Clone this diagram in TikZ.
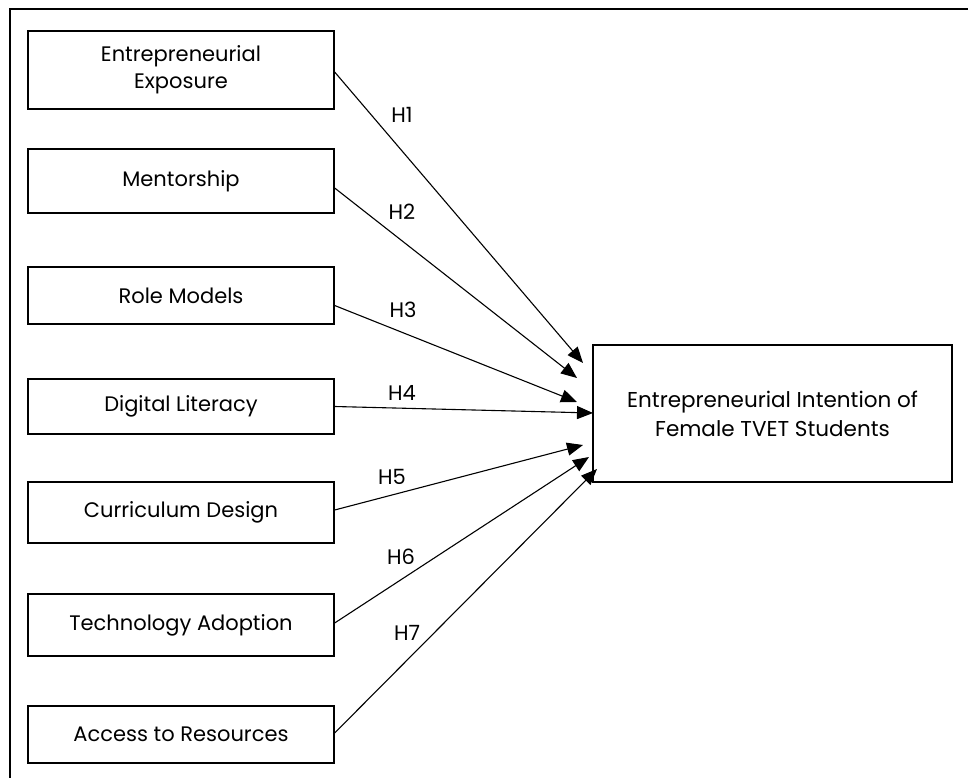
\documentclass[tikz,border=0pt]{standalone}
\usepackage{fontspec}
\setmainfont{Poppins}
\usetikzlibrary{arrows.meta}
\begin{document}
\begin{tikzpicture}[x=1pt,y=-1pt,
  factor/.style={draw, line width=1.3pt, minimum width=306pt, align=center,
    font=\fontsize{21}{27}\selectfont, inner sep=0pt},
  outcome/.style={draw, line width=1.3pt, minimum width=359pt, minimum height=137pt,
    align=center, font=\fontsize{21.5}{29}\selectfont, inner sep=0pt},
  link/.style={line width=1.1pt, -{Triangle[length=16pt,width=13pt]}},
  hlabel/.style={font=\fontsize{21}{23}\selectfont, inner sep=0pt}]
\useasboundingbox (0,0) rectangle (968,778);
\fill[white] (0,0) rectangle (968,778);
% frame
\draw[line width=2.2pt] (10,778) -- (10,9) -- (968,9);
% factor boxes
\node[factor, minimum height=78pt] (b1) at (181,70) {Entrepreneurial\\Exposure};
\node[factor, minimum height=64pt] (b2) at (181,181) {Mentorship};
\node[factor, minimum height=57pt] (b3) at (181,295.5) {Role Models};
\node[factor, minimum height=55pt] (b4) at (181,406.5) {Digital Literacy};
\node[factor, minimum height=61pt] (b5) at (181,512.5) {Curriculum Design};
\node[factor, minimum height=62pt] (b6) at (181,625) {Technology Adoption};
\node[factor, minimum height=57pt] (b7) at (181,734.5) {Access to Resources};
% outcome box
\node[outcome] (out) at (772.5,413.5) {Entrepreneurial Intention of\\Female TVET Students};
% arrow tips
\coordinate (t1) at (583,363);
\coordinate (t2) at (577,378);
\coordinate (t3) at (577,402);
\coordinate (t4) at (593,413);
\coordinate (t5) at (583,445);
\coordinate (t6) at (589,457);
\coordinate (t7) at (597,469);
% hypotheses (yshift acts in page space: negative moves down)
\draw[link] ([yshift=-2pt]b1.east) -- (t1);
\draw[link] ([yshift=-7pt]b2.east) -- (t2);
\draw[link] ([yshift=-10pt]b3.east) -- (t3);
\draw[link] (b4.east) -- (t4);
\draw[link] ([yshift=2.5pt]b5.east) -- (t5);
\draw[link] ([yshift=2pt]b6.east) -- (t6);
\draw[link] ([yshift=1.5pt]b7.east) -- (t7);
% labels
\node[hlabel] (h1) at (402,115) {H1};
\node[hlabel] (h2) at (402,212) {H2};
\node[hlabel] (h3) at (403,310) {H3};
\node[hlabel] (h4) at (402,393) {H4};
\node[hlabel] (h5) at (392,477) {H5};
\node[hlabel] (h6) at (401,557) {H6};
\node[hlabel] (h7) at (407,633) {H7};
\end{tikzpicture}
\end{document}
